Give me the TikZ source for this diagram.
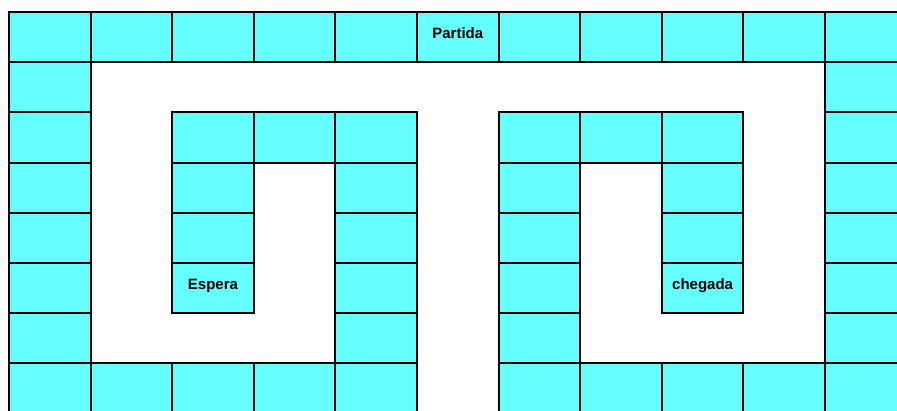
\documentclass[tikz,border=0pt]{standalone}
\usepackage{fontspec}
\setmainfont{Liberation Sans}
\usepackage{xcolor}
\definecolor{boardCyan}{HTML}{66FFFF}
\usetikzlibrary{positioning}
\tikzset{
  cell/.style={
    rectangle,draw=black,fill=boardCyan,
    line width=2pt,inner sep=0pt,
    minimum width=81.6pt,minimum height=50.2pt
  },
  namedcell/.style={
    cell,font=\fontsize{15}{17}\selectfont\bfseries,
    text depth=8pt
  },
}

\begin{document}
\begin{tikzpicture}[x=1pt,y=-1pt]
\clip (0,0) rectangle (897,410);

%% ── Outer ring ───────────────────────────────────────────
\foreach \c in {0,1,2,3,4,6,7,8,9,10}
  \node[cell] (t\c) at ({49.8+81.6*\c},37.1) {};
\foreach \r in {1,...,7}{
  \node[cell] (l\r) at (49.8,{37.1+50.2*\r}) {};
  \node[cell] (r\r) at ({49.8+81.6*10},{37.1+50.2*\r}) {};
}
\foreach \c in {1,2,3,4,6,7,8,9}
  \node[cell] (b\c) at ({49.8+81.6*\c},{37.1+50.2*7}) {};

%% ── Inner columns ────────────────────────────────────────
\foreach \r in {2,...,6}{
  \node[cell] (m4-\r) at ({49.8+81.6*4},{37.1+50.2*\r}) {};
  \node[cell] (m6-\r) at ({49.8+81.6*6},{37.1+50.2*\r}) {};
}
\foreach \c in {2,3,7,8}
  \node[cell] (h\c) at ({49.8+81.6*\c},{37.1+50.2*2}) {};
\foreach \r in {3,4}{
  \node[cell] (s2-\r) at ({49.8+81.6*2},{37.1+50.2*\r}) {};
  \node[cell] (s8-\r) at ({49.8+81.6*8},{37.1+50.2*\r}) {};
}

%% ── Named cells ──────────────────────────────────────────
\node[namedcell] (partida) at ({49.8+81.6*5},37.1) {Partida};
\node[namedcell] (espera) at ({49.8+81.6*2},{37.1+50.2*5}) {Espera};
\node[namedcell] (chegada) at ({49.8+81.6*8},{37.1+50.2*5}) {chegada};

\end{tikzpicture}
\end{document}
